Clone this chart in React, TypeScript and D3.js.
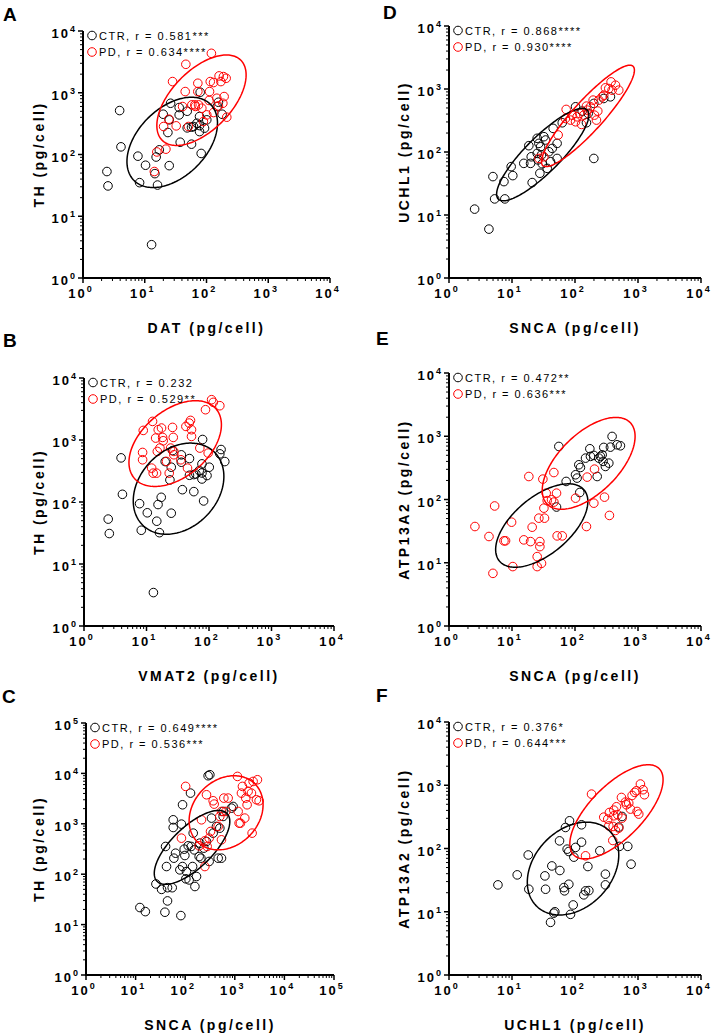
import React, { useRef, useEffect } from 'react';
import * as d3 from 'd3';

// values, [x, y] in pg/cell
const A_CTR = [[2.44,53],[2.54,31],[3.92,515],[4.12,133],[7.75,94],[8.25,35],[10.3,67],[14.6,49],[15.3,91],[17.2,119],[16.1,32],[12.9,3.46],[19.9,449],[23.7,227],[26.2,676],[24.9,364],[24.9,66],[36.1,576],[36.1,438],[37.5,158],[48.7,502],[48.7,270],[57.2,147],[57.2,277],[79,1019],[77.1,412],[77.1,294],[77.1,235],[82,104],[92.9,267],[149,598],[179,449],[156,702],[61.6,284],[69.8,321],[101,364]];
const A_PD = [[14.3,53],[15.7,110],[20.2,284],[22,122],[24.6,373],[28.2,1517],[32.3,291],[46.3,2890],[45.2,1045],[57.9,636],[64.8,636],[74.3,636],[72.4,1425],[72.4,1045],[84,562],[120,4350],[115,1517],[112,1045],[130,1463],[147,815],[156,612],[160,1873],[171,1517],[188,1827],[193,867],[208,1717],[213,402],[184,676],[130,478],[101,438],[89,342],[51,284],[41,598],[66,600],[110,750]];

const B_CTR = [[2.44,53],[2.54,31],[3.92,515],[4.12,133],[7.75,94],[8.25,35],[10.3,67],[14.6,49],[15.3,91],[17.2,119],[16.1,32],[12.9,3.46],[19.9,449],[23.7,227],[26.2,676],[24.9,364],[24.9,66],[36.1,576],[36.1,438],[37.5,158],[48.7,502],[48.7,270],[57.2,147],[57.2,277],[79,1019],[77.1,412],[77.1,294],[77.1,235],[82,104],[92.9,267],[149,598],[179,449],[156,702],[61.6,284],[69.8,321],[101,364]];
const B_PD = [[8.66,630],[8.66,480],[8.87,1428],[12.1,352],[12.8,292],[12.5,1995],[14,1074],[14.5,292],[15.4,1465],[14.9,654],[16.4,741],[17.4,1559],[18.1,1101],[18.5,972],[24.3,741],[23.1,292],[26.1,1597],[26.8,1101],[27.4,654],[27.4,578],[35.5,480],[42.7,1656],[48.2,1876],[50.6,2071],[52.5,1142],[52.5,1465],[45.3,352],[71.3,741],[87.9,3080],[97,615],[110,4467],[117,4045],[149,3573],[20.9,451]];

const C_CTR = [[12.2,21.8],[15.7,18.1],[25.7,64],[33.4,50],[39,17.6],[40.2,355],[42,142],[44,29.5],[44,54],[54.7,54],[57.3,1200],[57.3,845],[59.1,208],[63.9,261],[78,122],[81.8,15.1],[84,985],[88.4,2385],[88.4,142],[95.5,314],[98.4,235],[103,81],[106,113],[115,366],[120,77],[128,4065],[132,355],[141,142],[145,653],[152,304],[157,57],[169,90],[191,224],[197,413],[207,208],[238,329],[269,446],[290,8990],[314,9420],[304,179],[339,1297],[366,653],[427,885],[462,208],[539,208],[582,1758],[582,1400],[499,820],[925,2208],[857,2046]];
const C_PD = [[84,519],[102,5520],[213,1200],[249,460],[269,3770],[249,142],[277,355],[304,519],[324,704],[366,2864],[384,2460],[462,885],[499,1400],[539,481],[539,1758],[601,3236],[659,1758],[734,3236],[1132,8710],[1167,1758],[1222,1031],[1300,1031],[1362,4065],[1426,5520],[1589,1297],[1663,3236],[1770,2385],[1854,4386],[1945,6430],[2234,653],[2340,6930],[2730,3000],[2860,7480],[3090,2864],[2167,4065],[191,366]];

const D_CTR = [[2.55,12.4],[4.3,5.97],[4.98,40.7],[5.3,18],[7.45,33.9],[7.7,18],[9.7,58.6],[10.3,42.2],[15.4,66],[18.5,126],[19.7,66],[20.2,84],[20.9,32.7],[25.1,165],[25.1,95],[25.8,75],[26.7,137],[27.7,46],[28.4,121],[29.4,90],[30.2,65],[32.1,175],[34.1,155],[36.2,55],[38.5,101],[40.9,70],[43.5,114],[45,237],[52,137],[52,79],[62.7,291],[102,522],[130,446],[152,291],[199,79],[199,590],[365,752],[286,707],[162,409]];
const D_PD = [[26.7,79],[32.1,84],[54,186],[72.4,474],[70.6,341],[90,385],[102,302],[108,362],[119,409],[127,274],[138,385],[152,535],[176,522],[194,666],[204,385],[219,321],[230,446],[239,666],[270,752],[286,798],[304,1043],[344,1018],[374,1297],[388,959],[439,1150],[495,959],[85,321],[156,462]];

const E_CTR = [[55.4,690],[72.4,193],[50.9,76],[102,246],[108,218],[119,129],[115,354],[122,321],[147,451],[172,634],[176,480],[199,498],[225,231],[239,451],[254,480],[270,509],[286,666],[279,400],[304,333],[344,376],[365,673],[388,993],[466,733],[526,707]];
const E_PD = [[2.58,37.4],[4.31,26],[4.98,6.8],[5.3,79],[7.45,22.2],[7.9,22.2],[9.85,43.8],[10.3,8.7],[15.4,23],[18.5,231],[19.7,21.6],[20.9,36.5],[25.1,12.5],[25.1,8.7],[26.7,50.7],[27.7,21.6],[27.7,18],[29.4,9.8],[30.9,210],[32.1,73],[32.8,50.7],[34.9,126],[36.2,96],[42.4,99],[46.2,267],[46.2,91],[50.9,126],[52.1,26.6],[62.7,26.6],[102,105],[152,37.4],[156,226],[199,87.5],[204,302],[294,109],[352,56]];

const F_CTR = [[5.98,26.6],[12.1,38.3],[18.1,79],[18.5,22.7],[33.3,36.9],[34.1,22.7],[40.9,6.8],[42.9,53],[46.1,9.5],[47.9,10],[56.8,132],[57.5,44.9],[66.5,24.1],[68.2,21.4],[70.6,215],[75.1,97.6],[79.8,27.2],[79.8,89.7],[81.8,274],[84.9,9.1],[93.6,12.8],[95.9,73],[102,104],[127,126],[127,237],[138,18.5],[147,21.4],[160,51.9],[166,21.6],[248,92],[304,39.3],[304,26.6],[495,218],[507,108],[559,321],[688,108],[777,56.5]];
const F_PD = [[147,76.6],[183,724],[286,313],[331,291],[344,228],[352,371],[398,134],[403,223],[413,404],[439,193],[455,457],[478,341],[495,210],[546,641],[559,302],[632,542],[655,491],[713,522],[759,420],[806,690],[888,771],[944,818],[967,385],[1028,350],[1092,1045],[1205,849],[1265,708],[413,329]];

// ellipses: [xLow, xHigh, yLow, yHigh, y at rightmost point]
const A_ELL = { ctr: [5.15, 150.7, 29.2, 845, 321], pd: [15.7, 438, 140, 4090, 1942] };
const B_ELL = { ctr: [6.14, 173, 30.2, 891, 258], pd: [5.24, 158, 178, 4305, 1763] };
const C_ELL = { ctr: [23.8, 793, 63, 1841, 1112], pd: [120, 3715, 304, 8990, 2385] };
const D_ELL = { ctr: [5.7, 166, 16.8, 491, 385], pd: [29.4, 877, 58.6, 2385, 1987] };
const E_ELL = { ctr: [5.5, 160, 8.5, 177, 93], pd: [30.2, 899, 70, 1987, 994] };
const F_ELL = { ctr: [17.5, 495, 8.9, 261, 79], pd: [82.8, 2500, 68.6, 2112, 1222] };

const PANELS = [
  { id: 'A', xLabel: 'DAT (pg/cell)', yLabel: 'TH (pg/cell)', xDec: 4, yDec: 4, ctr: A_CTR, pd: A_PD, ell: A_ELL, ctrText: 'CTR, r = 0.581***', pdText: 'PD, r = 0.634****' },
  { id: 'D', xLabel: 'SNCA (pg/cell)', yLabel: 'UCHL1 (pg/cell)', xDec: 4, yDec: 4, ctr: D_CTR, pd: D_PD, ell: D_ELL, ctrText: 'CTR, r = 0.868****', pdText: 'PD, r = 0.930****' },
  { id: 'B', xLabel: 'VMAT2 (pg/cell)', yLabel: 'TH (pg/cell)', xDec: 4, yDec: 4, ctr: B_CTR, pd: B_PD, ell: B_ELL, ctrText: 'CTR, r = 0.232', pdText: 'PD, r = 0.529**' },
  { id: 'E', xLabel: 'SNCA (pg/cell)', yLabel: 'ATP13A2 (pg/cell)', xDec: 4, yDec: 4, ctr: E_CTR, pd: E_PD, ell: E_ELL, ctrText: 'CTR, r = 0.472**', pdText: 'PD, r = 0.636***' },
  { id: 'C', xLabel: 'SNCA (pg/cell)', yLabel: 'TH (pg/cell)', xDec: 5, yDec: 5, ctr: C_CTR, pd: C_PD, ell: C_ELL, ctrText: 'CTR, r = 0.649****', pdText: 'PD, r = 0.536***' },
  { id: 'F', xLabel: 'UCHL1 (pg/cell)', yLabel: 'ATP13A2 (pg/cell)', xDec: 4, yDec: 4, ctr: F_CTR, pd: F_PD, ell: F_ELL, ctrText: 'CTR, r = 0.376*', pdText: 'PD, r = 0.644***' },
];

// pixel boxes of each plot area
const LAYOUT = {
  A: { x0: 83, x1: 330, y0: 31, y1: 278, lx: 3, ly: 21, ytx: 39 },
  D: { x0: 449, x1: 701, y0: 26, y1: 278, lx: 383, ly: 19, ytx: 404 },
  B: { x0: 84, x1: 334, y0: 378, y1: 626, lx: 3, ly: 347, ytx: 39 },
  E: { x0: 449, x1: 701, y0: 373, y1: 626, lx: 376, ly: 345, ytx: 404 },
  C: { x0: 86, x1: 334, y0: 723, y1: 975, lx: 2, ly: 703, ytx: 39 },
  F: { x0: 449, x1: 701, y0: 722, y1: 975, lx: 376, ly: 702, ytx: 404 },
};

const FONT = '"Liberation Sans", Arial, sans-serif';
const RED = '#ff0000';
const BLACK = '#000';

function ellipsePoints(e) {
  const [xl, xh, yl, yh, yr] = e.map(Math.log10);
  const cx = (xl + xh) / 2, rx = (xh - xl) / 2;
  const cy = (yl + yh) / 2, ry = (yh - yl) / 2;
  const phi = Math.acos(Math.max(-1, Math.min(1, (yr - cy) / ry)));
  return d3.range(0, 2 * Math.PI, Math.PI / 90).map(t => [
    Math.pow(10, cx + rx * Math.cos(t)),
    Math.pow(10, cy + ry * Math.cos(t - phi)),
  ]);
}

function drawPanel(svg, p) {
  const L = LAYOUT[p.id];
  const x = d3.scaleLog().domain([1, Math.pow(10, p.xDec)]).range([L.x0, L.x1]);
  const y = d3.scaleLog().domain([1, Math.pow(10, p.yDec)]).range([L.y1, L.y0]);
  const g = svg.append('g');

  // minor + major ticks
  const minors = (n) => d3.range(0, n).flatMap(d => d3.range(2, 10).map(k => k * Math.pow(10, d)));
  const majors = (n) => d3.range(0, n + 1).map(d => Math.pow(10, d));

  g.selectAll('.xmin').data(minors(p.xDec)).enter().append('line')
    .attr('x1', d => x(d)).attr('x2', d => x(d))
    .attr('y1', L.y1).attr('y2', L.y1 + 3)
    .attr('stroke', BLACK).attr('stroke-width', 1);
  g.selectAll('.xmaj').data(majors(p.xDec)).enter().append('line')
    .attr('x1', d => x(d)).attr('x2', d => x(d))
    .attr('y1', L.y1).attr('y2', L.y1 + 5)
    .attr('stroke', BLACK).attr('stroke-width', 1.5);
  g.selectAll('.ymin').data(minors(p.yDec)).enter().append('line')
    .attr('y1', d => y(d)).attr('y2', d => y(d))
    .attr('x1', L.x0).attr('x2', L.x0 - 3)
    .attr('stroke', BLACK).attr('stroke-width', 1);
  g.selectAll('.ymaj').data(majors(p.yDec)).enter().append('line')
    .attr('y1', d => y(d)).attr('y2', d => y(d))
    .attr('x1', L.x0).attr('x2', L.x0 - 5)
    .attr('stroke', BLACK).attr('stroke-width', 1.5);

  // axis lines
  g.append('line').attr('x1', L.x0).attr('x2', L.x1).attr('y1', L.y1).attr('y2', L.y1)
    .attr('stroke', BLACK).attr('stroke-width', 2);
  g.append('line').attr('x1', L.x0).attr('x2', L.x0).attr('y1', L.y0).attr('y2', L.y1 + 1)
    .attr('stroke', BLACK).attr('stroke-width', 2);

  // tick labels
  const xt = g.selectAll('.xt').data(d3.range(0, p.xDec + 1)).enter().append('text')
    .attr('x', d => x(Math.pow(10, d)) - 3).attr('y', L.y1 + 20)
    .attr('text-anchor', 'middle')
    .attr('font-family', FONT).attr('font-weight', 'bold').attr('font-size', 13)
    .attr('letter-spacing', 2);
  xt.append('tspan').text('10');
  xt.append('tspan').attr('dy', -6).attr('font-size', 9).attr('letter-spacing', 0).text(d => d);

  const yt = g.selectAll('.yt').data(d3.range(0, p.yDec + 1)).enter().append('text')
    .attr('x', L.x0 - 8).attr('y', d => y(Math.pow(10, d)) + 7)
    .attr('text-anchor', 'end')
    .attr('font-family', FONT).attr('font-weight', 'bold').attr('font-size', 13)
    .attr('letter-spacing', 2);
  yt.append('tspan').text('10');
  yt.append('tspan').attr('dy', -6).attr('font-size', 9).attr('letter-spacing', 0).text(d => d);

  // axis titles
  g.append('text')
    .attr('x', (L.x0 + L.x1) / 2).attr('y', L.y1 + 55)
    .attr('text-anchor', 'middle')
    .attr('font-family', FONT).attr('font-weight', 'bold').attr('font-size', 14)
    .attr('letter-spacing', 2.5)
    .text(p.xLabel);
  g.append('text')
    .attr('transform', `translate(${L.ytx},${(L.y0 + L.y1) / 2}) rotate(-90)`)
    .attr('dy', '0.35em')
    .attr('text-anchor', 'middle')
    .attr('font-family', FONT).attr('font-weight', 'bold').attr('font-size', 14)
    .attr('letter-spacing', 2.5)
    .text(p.yLabel);

  // panel letter
  g.append('text')
    .attr('x', L.lx).attr('y', L.ly)
    .attr('font-family', FONT).attr('font-weight', 'bold').attr('font-size', 19)
    .text(p.id);

  // points
  const pts = [[p.ctr, BLACK], [p.pd, RED]];
  pts.forEach(([data, color]) => {
    g.append('g').selectAll('circle').data(data).enter().append('circle')
      .attr('cx', d => x(d[0])).attr('cy', d => y(d[1]))
      .attr('r', 4.3)
      .attr('fill', 'none').attr('stroke', color).attr('stroke-width', 1);
  });

  // ellipses
  const line = d3.line().x(d => x(d[0])).y(d => y(d[1])).curve(d3.curveLinearClosed);
  g.append('path').attr('d', line(ellipsePoints(p.ell.ctr)))
    .attr('fill', 'none').attr('stroke', BLACK).attr('stroke-width', 1.5);
  g.append('path').attr('d', line(ellipsePoints(p.ell.pd)))
    .attr('fill', 'none').attr('stroke', RED).attr('stroke-width', 1.5);

  // legend
  const legend = [[p.ctrText, BLACK, 4.5], [p.pdText, RED, 21]];
  legend.forEach(([txt, color, dy]) => {
    g.append('circle')
      .attr('cx', L.x0 + 9).attr('cy', L.y0 + dy).attr('r', 4.3)
      .attr('fill', 'none').attr('stroke', color).attr('stroke-width', 1);
    g.append('text')
      .attr('x', L.x0 + 16).attr('y', L.y0 + dy + 4)
      .attr('font-family', FONT).attr('font-size', 11)
      .attr('letter-spacing', 1.5)
      .attr('fill', BLACK)
      .text(txt);
  });
}

function App() {
  const svgRef = useRef(null);

  useEffect(() => {
    const svg = d3.select(svgRef.current);
    svg.selectAll('*').remove();
    PANELS.forEach(p => drawPanel(svg, p));
  }, []);

  return (
    <svg ref={svgRef} width={714} height={1036}
      style={{ position: 'absolute', left: 0, top: 0, background: '#fff' }}></svg>
  );
}

export default App;
